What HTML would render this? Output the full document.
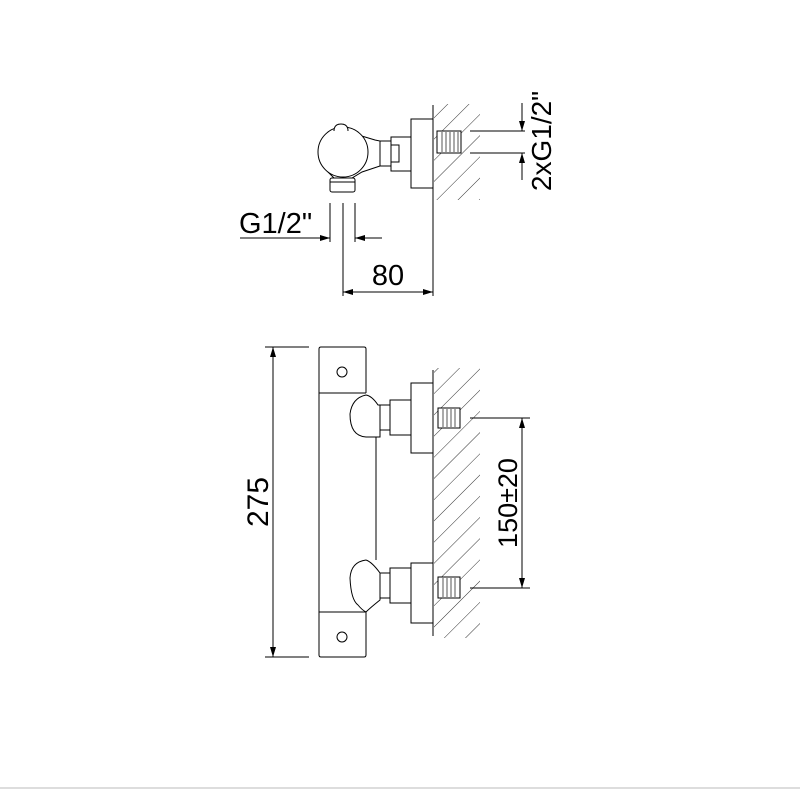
<!DOCTYPE html>
<html><head><style>html,body{margin:0;padding:0;background:#fff;}svg{display:block}</style></head>
<body>
<svg width="800" height="800" viewBox="0 0 800 800" xmlns="http://www.w3.org/2000/svg" font-family="Liberation Sans, sans-serif">
<defs>
<marker id="a" viewBox="0 0 10 6" refX="10" refY="3" markerWidth="10" markerHeight="6" orient="auto" markerUnits="userSpaceOnUse"><path d="M0,0 L10,3 L0,6 z" fill="#000"/></marker>
<clipPath id="h1"><rect x="434" y="104" width="46" height="96"/></clipPath>
<clipPath id="h2"><rect x="434" y="368" width="46" height="270"/></clipPath>
<pattern id="hp" width="15" height="15" patternUnits="userSpaceOnUse" patternTransform="rotate(45)"><line x1="0" y1="0" x2="0" y2="15" stroke="#333" stroke-width="1"/></pattern>
</defs>
<g fill="none" stroke="#000" stroke-width="1">
<!-- TOP VIEW -->
<rect x="434" y="104" width="46" height="96" fill="url(#hp)" stroke="none" clip-path="url(#h1)"/>
<line x1="433" y1="105" x2="433" y2="296"/>
<rect x="411" y="119" width="22" height="69" fill="#fff"/>
<rect x="391" y="137" width="20" height="34" fill="#fff"/>
<rect x="391" y="145" width="8" height="17"/>
<path d="M380,141 L391,141 L391,166 L380,166"/>
<path d="M345,131 L375,140 L380,141 L380,166 L362,172 L352,178 L334,178 L324,168" fill="#fff"/>
<circle cx="343" cy="152" r="25" fill="#fff"/>
<path d="M334,131 Q334,124 341,124 Q348,124 348,131" fill="#fff"/>
<rect x="330" y="178" width="25" height="14" rx="2" fill="#fff"/>
<line x1="330" y1="182" x2="355" y2="182"/>
<rect x="437" y="131" width="24" height="22" fill="#fff"/>
<g stroke="#555"><line x1="442" y1="132" x2="442" y2="152"/><line x1="446" y1="132" x2="446" y2="152"/><line x1="450" y1="132" x2="450" y2="152"/><line x1="454" y1="132" x2="454" y2="152"/><line x1="458" y1="132" x2="458" y2="152"/></g>
<line x1="470" y1="131" x2="525" y2="131"/>
<line x1="470" y1="153" x2="525" y2="153"/>
<line x1="522" y1="103" x2="522" y2="131" marker-end="url(#a)"/>
<line x1="522" y1="180" x2="522" y2="153" marker-end="url(#a)"/>
<line x1="330" y1="203" x2="330" y2="242"/>
<line x1="343" y1="203" x2="343" y2="296"/>
<line x1="355" y1="203" x2="355" y2="242"/>
<line x1="240" y1="238" x2="330" y2="238" marker-end="url(#a)"/>
<line x1="382" y1="238" x2="355" y2="238" marker-end="url(#a)"/>
<line x1="343" y1="292" x2="433" y2="292" marker-end="url(#a)"/>
<line x1="433" y1="292" x2="343" y2="292" marker-end="url(#a)"/>

<!-- FRONT VIEW -->
<rect x="434" y="368" width="46" height="270" fill="url(#hp)" stroke="none" clip-path="url(#h2)"/>
<line x1="433" y1="370" x2="433" y2="636"/>
<path d="M321,347 L364,347 Q366,347 366,349 L366,393 M366,612 L366,655 Q366,657 364,657 L321,657 Q319,657 319,655 L319,349 Q319,347 321,347"/>
<line x1="319" y1="393" x2="366" y2="393"/>
<line x1="319" y1="612" x2="366" y2="612"/>
<line x1="376" y1="437" x2="376" y2="560"/>
<circle cx="342" cy="372" r="5"/>
<circle cx="342" cy="637" r="5"/>
<path d="M366,395 Q352,398 350,414 Q350,436 366,437 L380,437 L380,405 L378,405 Q372,396 366,395" fill="#fff"/>
<path d="M366,560 Q351,562 350,578 Q351,600 358,605 Q362,610 366,612 Q370,608 380,600 L380,573 Q372,562 366,560" fill="#fff"/>
<rect x="380" y="405" width="10" height="25" fill="#fff"/>
<rect x="390" y="400" width="21" height="35" fill="#fff"/>
<rect x="411" y="383" width="22" height="70" fill="#fff"/>
<rect x="380" y="573" width="10" height="25" fill="#fff"/>
<rect x="390" y="568" width="21" height="35" fill="#fff"/>
<rect x="411" y="563" width="22" height="60" fill="#fff"/>
<rect x="438" y="408" width="22" height="20" fill="#fff"/>
<rect x="438" y="577" width="22" height="21" fill="#fff"/>
<g stroke="#555"><line x1="443" y1="409" x2="443" y2="427"/><line x1="447" y1="409" x2="447" y2="427"/><line x1="451" y1="409" x2="451" y2="427"/><line x1="455" y1="409" x2="455" y2="427"/>
<line x1="443" y1="578" x2="443" y2="597"/><line x1="447" y1="578" x2="447" y2="597"/><line x1="451" y1="578" x2="451" y2="597"/><line x1="455" y1="578" x2="455" y2="597"/></g>
<line x1="470" y1="418" x2="530" y2="418"/>
<line x1="470" y1="588" x2="530" y2="588"/>
<line x1="522" y1="503" x2="522" y2="418" marker-end="url(#a)"/>
<line x1="522" y1="503" x2="522" y2="588" marker-end="url(#a)"/>
<line x1="265" y1="347" x2="309" y2="347"/>
<line x1="265" y1="657" x2="309" y2="657"/>
<line x1="273" y1="502" x2="273" y2="347" marker-end="url(#a)"/>
<line x1="273" y1="502" x2="273" y2="657" marker-end="url(#a)"/>
</g>
<g fill="#000" font-size="29">
<text x="239" y="233">G1/2"</text>
<text x="388" y="285" text-anchor="middle">80</text>
<text transform="translate(551,141) rotate(-90)" text-anchor="middle" font-size="28">2xG1/2"</text>
<text transform="translate(517,503) rotate(-90)" text-anchor="middle" font-size="27">150±20</text>
<text transform="translate(268,502) rotate(-90)" text-anchor="middle" font-size="30">275</text>
</g>
<line x1="0" y1="788" x2="800" y2="788" stroke="#bbb" stroke-width="1"/>
</svg>
</body></html>
